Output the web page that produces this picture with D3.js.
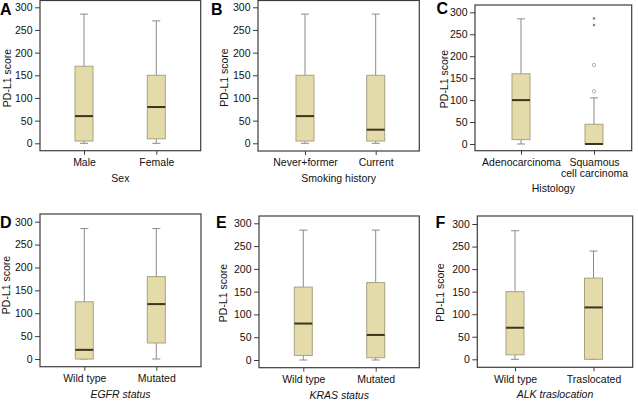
<!DOCTYPE html>
<html><head><meta charset="utf-8">
<script src="https://cdn.jsdelivr.net/npm/d3@7"></script>
<style>
html,body{margin:0;padding:0;background:#fff;}
svg{display:block;font-family:"Liberation Sans",Arial,sans-serif;}
</style></head>
<body>
<svg id="chart" width="638" height="402"></svg>
<script>
// ---- data ----
const panelLetters = ["A","B","C","D","E","F"];
const xTitles = ["Sex","Smoking history","Histology","EGFR status","KRAS status","ALK traslocation"];
const xTitleItalic = [false,false,false,true,true,true];
const categories = [
  ["Male","Female"],
  ["Never+former","Current"],
  ["Adenocarcinoma","Squamous\ncell carcinoma"],
  ["Wild type","Mutated"],
  ["Wild type","Mutated"],
  ["Wild type","Traslocated"]
];
const yTitle = "PD-L1 score";
const yTicks = [0,50,100,150,200,250,300];
const whiskerLow  = [[0,0],[0,0],[0,0],[0,0],[0,0],[0,0]];
const q1          = [[5,10],[5,5],[10,0],[0,35],[10,5],[10,0]];
const medians     = [[60,80],[60,30],[100,0],[20,120],[80,55],[70,115]];
const q3          = [[170,150],[150,150],[160,45],[125,180],[160,170],[150,180]];
const whiskerHigh = [[285,270],[285,285],[285,105],[285,285],[285,285],[285,240]];
const outliers    = [[[],[]],[[],[]],[[],[120,180]],[[],[]],[[],[]],[[],[]]];
const extremes    = [[[],[]],[[],[]],[[],[271,286]],[[],[]],[[],[]],[[],[]]];

// ---- layout (pixel geometry only) ----
const layout = [
  {l:40,   r:200.7, t:0.5, b:150.7, y0:143.3, y300:7.3,   xa:84,    xb:156.3, lx:0,   ly:14.5, tx:7.3,   ty:78},
  {l:258,  r:419.3, t:0.5, b:151,   y0:143.3, y300:7.3,   xa:305,   xb:375.7, lx:211, ly:14.5, tx:224,   ty:77.5},
  {l:475,  r:631.7, t:5,   b:150.7, y0:144,   y300:12.3,  xa:521,   xb:594,   lx:436.5, ly:14, tx:444,   ty:79},
  {l:40,   r:201,   t:214, b:366.7, y0:359,   y300:221.7, xa:84.3,  xb:156.3, lx:0,   ly:228, tx:6.5,   ty:285},
  {l:259,  r:419.3, t:216, b:367.7, y0:360,   y300:223.3, xa:303.3, xb:375.7, lx:216, ly:228, tx:223.3, ty:293},
  {l:477.3,r:632.7, t:216, b:367.3, y0:359.3, y300:224,   xa:515,   xb:593.5, lx:435.5, ly:228, tx:440.8, ty:292.5}
];
const boxW = 18, capW = 8, fs = 10.5;
const C = {fill:"#e4dbab", boxStroke:"#a9a27f", median:"#3a3420", whisk:"#8a8a8a", frame:"#3c3c3c", text:"#111"};

const svg = d3.select("#chart");

panelLetters.forEach((letter, i) => {
  const L = layout[i];
  const g = svg.append("g");
  const x = d3.scalePoint().domain(categories[i]).range([L.xa, L.xb]);
  const y = d3.scaleLinear().domain([0,300]).range([L.y0, L.y300]);

  // y axis
  const ya = g.append("g").attr("transform", `translate(${L.l},0)`)
    .call(d3.axisLeft(y).tickValues(yTicks).tickSize(5).tickPadding(2.5));
  ya.select(".domain").remove();
  ya.selectAll(".tick line").attr("stroke", C.frame);
  ya.selectAll(".tick text").attr("font-size", fs).attr("fill", C.text).attr("font-family","Liberation Sans, Arial, sans-serif");

  // x axis
  const xa = g.append("g").attr("transform", `translate(0,${L.b})`)
    .call(d3.axisBottom(x).tickSize(4).tickPadding(3.8));
  xa.select(".domain").remove();
  xa.selectAll(".tick line").attr("stroke", C.frame);
  xa.selectAll(".tick text").attr("font-size", fs).attr("fill", C.text).attr("font-family","Liberation Sans, Arial, sans-serif")
    .each(function(d){
      const lines = d.split("\n");
      if (lines.length > 1) {
        const t = d3.select(this); t.text(null);
        lines.forEach((ln, k) => t.append("tspan").attr("x", 0).attr("dy", k === 0 ? "0.71em" : "1.1em").text(ln));
      }
    });

  // frame
  g.append("rect").attr("x", L.l).attr("y", L.t).attr("width", L.r - L.l).attr("height", L.b - L.t)
    .attr("fill","none").attr("stroke", C.frame).attr("stroke-width", 1.2);

  // boxes
  categories[i].forEach((cat, j) => {
    const cx = x(cat);
    const bg = g.append("g");
    bg.append("line").attr("x1",cx).attr("x2",cx).attr("y1",y(q3[i][j])).attr("y2",y(whiskerHigh[i][j])).attr("stroke",C.whisk);
    bg.append("line").attr("x1",cx).attr("x2",cx).attr("y1",y(q1[i][j])).attr("y2",y(whiskerLow[i][j])).attr("stroke",C.whisk);
    [whiskerHigh[i][j], whiskerLow[i][j]].forEach(v => {
      bg.append("line").attr("x1",cx-capW/2).attr("x2",cx+capW/2).attr("y1",y(v)).attr("y2",y(v)).attr("stroke",C.whisk);
    });
    bg.append("rect").attr("x",cx-boxW/2).attr("width",boxW)
      .attr("y",y(q3[i][j])).attr("height",Math.max(0.5, y(q1[i][j]) - y(q3[i][j])))
      .attr("fill",C.fill).attr("stroke",C.boxStroke).attr("stroke-width",1);
    bg.append("line").attr("x1",cx-boxW/2).attr("x2",cx+boxW/2).attr("y1",y(medians[i][j])).attr("y2",y(medians[i][j]))
      .attr("stroke",C.median).attr("stroke-width",2);
    outliers[i][j].forEach(v => {
      bg.append("circle").attr("cx",cx).attr("cy",y(v)).attr("r",1.7).attr("fill","none").attr("stroke","#a0a0a0").attr("stroke-width",0.8);
    });
    extremes[i][j].forEach(v => {
      bg.append("path").attr("d", d3.symbol(d3.symbolAsterisk, 5)()).attr("transform",`translate(${cx},${y(v)})`)
        .attr("fill","none").attr("stroke","#666").attr("stroke-width",0.8);
    });
  });

  // y title
  g.append("text").attr("transform",`translate(${L.tx},${L.ty}) rotate(-90)`)
    .attr("text-anchor","middle").attr("dy","0.35em").attr("font-size",fs).attr("fill",C.text).text(yTitle);

  // x title
  const nLines = d3.max(categories[i], c => c.split("\n").length);
  g.append("text").attr("x",(L.l+L.r)/2).attr("y", L.b + (nLines > 1 ? 41 : 31))
    .attr("text-anchor","middle").attr("font-size",fs).attr("fill",C.text)
    .attr("font-style", xTitleItalic[i] ? "italic" : "normal").text(xTitles[i]);

  // panel letter
  svg.append("text").attr("x",L.lx).attr("y",L.ly).attr("font-size",16).attr("font-weight","bold")
    .attr("fill","#000").attr("font-family","Liberation Sans, Arial, sans-serif").text(letter);
});
</script>
</body></html>
